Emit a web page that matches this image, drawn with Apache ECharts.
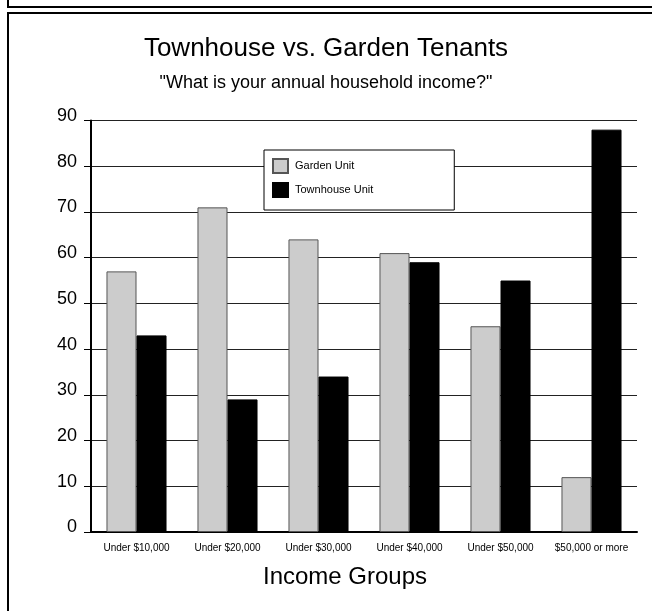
<!DOCTYPE html>
<html>
<head>
<meta charset="utf-8">
<script src="https://cdn.jsdelivr.net/npm/echarts@6/dist/echarts.min.js"></script>
<style>
  html, body { margin: 0; padding: 0; background: #fff; }
  #chart { width: 652px; height: 611px; }
</style>
</head>
<body>
<div id="chart"></div>
<script>
// Survey results: share of tenants by household income bracket
const categories = ['Under $10,000', 'Under $20,000', 'Under $30,000', 'Under $40,000', 'Under $50,000', '$50,000 or more'];
const gardenUnit = [57, 71, 64, 61, 45, 12];
const townhouseUnit = [43, 29, 34, 59, 55, 88];
const yTicks = [0, 10, 20, 30, 40, 50, 60, 70, 80, 90];

const FONT = '"Liberation Sans", Arial, sans-serif';
const chart = echarts.init(document.getElementById('chart'), null, { renderer: 'canvas' });

chart.setOption({
  backgroundColor: '#ffffff',
  animation: false,
  textStyle: { fontFamily: FONT, color: '#000' },
  title: {
    text: 'Townhouse vs. Garden Tenants',
    subtext: '"What is your annual household income?"',
    left: 'center',
    top: 31,
    itemGap: 12,
    textStyle: { fontFamily: FONT, fontSize: 26, fontWeight: 'normal', color: '#000' },
    subtextStyle: { fontFamily: FONT, fontSize: 18, color: '#000' }
  },
  legend: {
    orient: 'vertical',
    left: 264,
    top: 150,
    padding: [8, 81, 12, 8],
    itemWidth: 15,
    itemHeight: 14,
    itemGap: 8,
    icon: 'rect',
    borderColor: '#000',
    borderWidth: 1,
    backgroundColor: '#fff',
    textStyle: { fontFamily: FONT, fontSize: 11, color: '#000', padding: [0, 0, 0, 2] },
    data: ['Garden Unit', 'Townhouse Unit']
  },
  grid: { left: 91, right: 15, top: 120.5, bottom: 79, containLabel: false },
  xAxis: {
    type: 'category',
    data: categories,
    name: 'Income Groups',
    nameLocation: 'middle',
    nameGap: 33,
    nameTextStyle: { fontFamily: FONT, fontSize: 24, color: '#000', padding: [0, 38, 0, 0] },
    axisLine: { lineStyle: { color: '#000', width: 2 } },
    axisTick: { show: false },
    axisLabel: { interval: 0, fontFamily: FONT, fontSize: 10, color: '#000', margin: 11 }
  },
  yAxis: {
    type: 'value',
    min: yTicks[0],
    max: yTicks[yTicks.length - 1],
    interval: 10,
    axisLine: { show: true, lineStyle: { color: '#000', width: 2 } },
    axisTick: { show: true, length: 7, lineStyle: { color: '#000', width: 1 } },
    axisLabel: { fontFamily: FONT, fontSize: 18, color: '#000', margin: 14, verticalAlign: 'bottom', lineHeight: 9 },
    splitLine: { show: true, lineStyle: { color: '#222', width: 1 } }
  },
  series: [
    {
      name: 'Garden Unit',
      type: 'bar',
      data: gardenUnit,
      barGap: '0%',
      barCategoryGap: '34%',
      itemStyle: { color: '#cccccc', borderColor: '#555555', borderWidth: 1 }
    },
    {
      name: 'Townhouse Unit',
      type: 'bar',
      data: townhouseUnit,
      itemStyle: { color: '#000000', borderColor: '#000000', borderWidth: 1 }
    }
  ],
  graphic: [
    { type: 'line', shape: { x1: 8, y1: 0, x2: 8, y2: 7 }, style: { stroke: '#000', lineWidth: 2 } },
    { type: 'line', shape: { x1: 7, y1: 7, x2: 652, y2: 7 }, style: { stroke: '#000', lineWidth: 2 } },
    { type: 'line', shape: { x1: 8, y1: 13, x2: 652, y2: 13 }, style: { stroke: '#000', lineWidth: 2 } },
    { type: 'line', shape: { x1: 8, y1: 12, x2: 8, y2: 611 }, style: { stroke: '#000', lineWidth: 2 } }
  ]
});
</script>
</body>
</html>
